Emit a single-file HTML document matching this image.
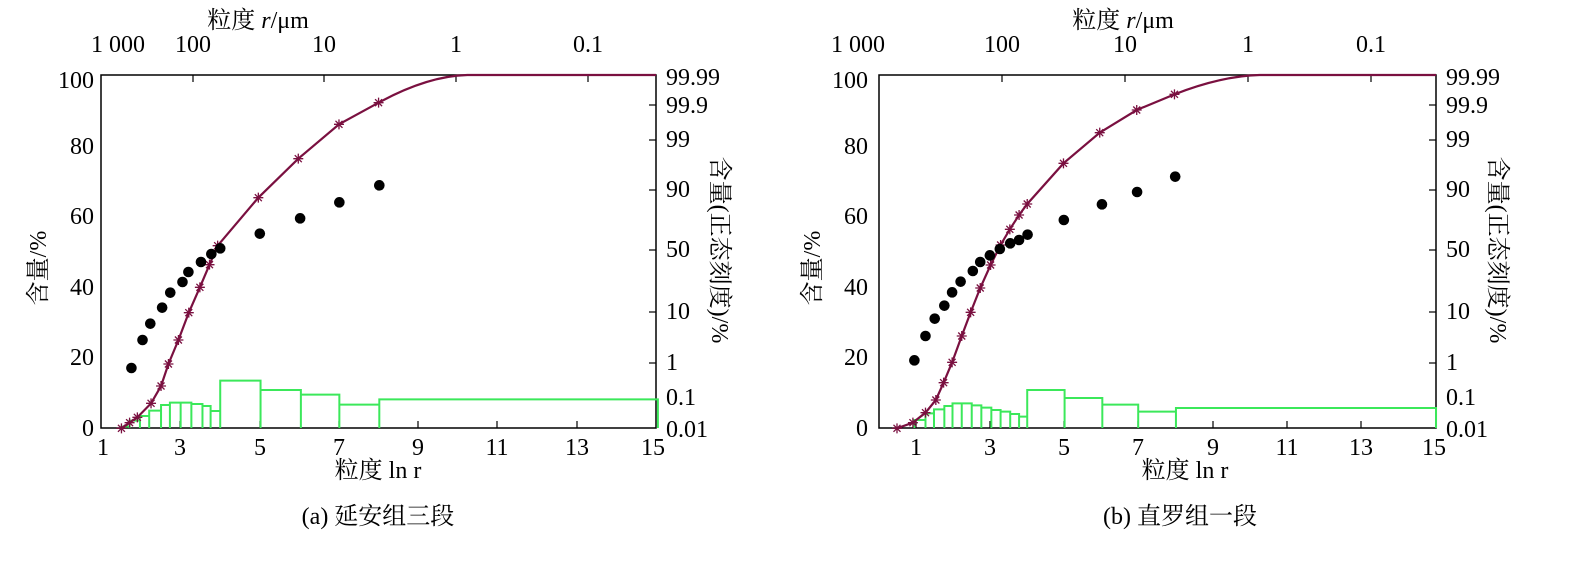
<!DOCTYPE html>
<html><head><meta charset="utf-8"><style>
html,body{margin:0;padding:0;background:#fff}
svg text{font-family:"Liberation Serif","Noto Serif CJK SC",serif;font-size:24px;fill:#000}
</style></head><body>
<svg id="s" width="1570" height="558" xmlns="http://www.w3.org/2000/svg">
<g id="A">
<rect x="101" y="75" width="555" height="353" fill="none" stroke="#000" stroke-width="1.5"/>
<g text-anchor="end">
<text x="94" y="436">0</text><text x="94" y="365">20</text><text x="94" y="295">40</text><text x="94" y="224">60</text><text x="94" y="154">80</text><text x="94" y="88">100</text>
</g>
<g text-anchor="start">
<text x="666" y="85">99.99</text><text x="666" y="113">99.9</text><text x="666" y="147">99</text><text x="666" y="197">90</text><text x="666" y="257">50</text><text x="666" y="319">10</text><text x="666" y="370">1</text><text x="666" y="405">0.1</text><text x="666" y="437">0.01</text>
</g>
<g text-anchor="middle">
<text x="103" y="455">1</text><text x="180" y="455">3</text><text x="260" y="455">5</text><text x="339" y="455">7</text><text x="418" y="455">9</text><text x="497" y="455">11</text><text x="577" y="455">13</text><text x="653" y="455">15</text>
<text x="118" y="52">1 000</text><text x="193" y="52">100</text><text x="324" y="52">10</text><text x="456" y="52">1</text><text x="588" y="52">0.1</text>
<text x="378" y="478">粒度 ln r</text>
<text x="258" y="28">粒度 <tspan font-style="italic">r</tspan>/μm</text>
<text x="378" y="524">(a)  延安组三段</text>
</g>
<text transform="translate(46,268) rotate(-90)" text-anchor="middle">含量/%</text>
<text transform="translate(712,250) rotate(90)" text-anchor="middle">含量(正态刻度)/%</text>
</g>
<g id="B">
<rect x="879" y="75" width="557" height="353" fill="none" stroke="#000" stroke-width="1.5"/>
<g text-anchor="end">
<text x="868" y="436">0</text><text x="868" y="365">20</text><text x="868" y="295">40</text><text x="868" y="224">60</text><text x="868" y="154">80</text><text x="868" y="88">100</text>
</g>
<g text-anchor="start">
<text x="1446" y="85">99.99</text><text x="1446" y="113">99.9</text><text x="1446" y="147">99</text><text x="1446" y="197">90</text><text x="1446" y="257">50</text><text x="1446" y="319">10</text><text x="1446" y="370">1</text><text x="1446" y="405">0.1</text><text x="1446" y="437">0.01</text>
</g>
<g text-anchor="middle">
<text x="916" y="455">1</text><text x="990" y="455">3</text><text x="1064" y="455">5</text><text x="1138" y="455">7</text><text x="1213" y="455">9</text><text x="1287" y="455">11</text><text x="1361" y="455">13</text><text x="1434" y="455">15</text>
<text x="858" y="52">1 000</text><text x="1002" y="52">100</text><text x="1125" y="52">10</text><text x="1248" y="52">1</text><text x="1371" y="52">0.1</text>
<text x="1185" y="478">粒度 ln r</text>
<text x="1123" y="28">粒度 <tspan font-style="italic">r</tspan>/μm</text>
<text x="1180" y="524">(b)  直罗组一段</text>
</g>
<text transform="translate(820,268) rotate(-90)" text-anchor="middle">含量/%</text>
<text transform="translate(1490,250) rotate(90)" text-anchor="middle">含量(正态刻度)/%</text>
</g>
<g id="D"></g>
</svg>
<script>
var NS="http://www.w3.org/2000/svg",D=document.getElementById("D");
function el(t,a){var e=document.createElementNS(NS,t);for(var k in a)e.setAttribute(k,a[k]);D.appendChild(e);return e;}
function chart(ox,dots,stars,end,hist,left,right,bx,ticksX,topX){
 var X=function(z){return ox+z/2.703},Y=function(z){return 60+z/3};
 ticksX.forEach(function(t){el("line",{x1:t,x2:t,y1:428,y2:421,stroke:"#000","stroke-width":1.2});});
 topX.forEach(function(t){el("line",{x1:t,x2:t,y1:75,y2:82,stroke:"#000","stroke-width":1.2});});
 [105,140,190,250,312,363].forEach(function(y){el("line",{x1:right-7,x2:right,y1:y,y2:y,stroke:"#000","stroke-width":1.2});});
 var p="M"+X(hist[0][0])+",428";
 hist.forEach(function(h){p+=" L"+X(h[0])+","+Y(h[2])+" L"+X(h[1])+","+Y(h[2])+" L"+X(h[1])+",428";});
 el("path",{d:p,fill:"none",stroke:"#3be85a","stroke-width":2});
 var pts=stars.map(function(s){return [X(s[0]),Y(s[1])]});
 var d="M"+pts[0][0]+","+pts[0][1];
 for(var i=1;i<pts.length;i++)d+=" L"+pts[i][0]+","+pts[i][1];
 var l=pts[pts.length-1];
 d+=" Q"+(l[0]+(X(end)-l[0])*0.55)+","+(75+1)+" "+X(end)+",75 L"+right+",75";
 el("path",{d:d,fill:"none",stroke:"#7a1040","stroke-width":2.2});
 pts.forEach(function(q){var r=5;
  el("path",{d:"M"+(q[0]-r)+","+q[1]+"h"+2*r+"M"+q[0]+","+(q[1]-r)+"v"+2*r+"M"+(q[0]-3.5)+","+(q[1]-3.5)+"l7,7M"+(q[0]-3.5)+","+(q[1]+3.5)+"l7,-7",stroke:"#7a1040","stroke-width":1.3});});
 dots.forEach(function(q){el("circle",{cx:X(q[0]),cy:Y(q[1]),r:5.3,fill:"#000"});});
}
chart(90,
[[112,924],[142,840],[163,791],[195,743],[217,698],[250,666],[266,636],[300,606],[328,582],[352,565],[459,521],[568,475],[674,427],[782,376]],
[[85,1105],[107,1088],[128,1072],[165,1030],[192,978],[212,912],[239,840],[267,758],[297,682],[323,614],[345,557],[455,413],[563,296],[673,193],[780,128]],
1020,
[[85,107,1100],[107,135,1082],[135,160,1068],[160,192,1052],[192,216,1035],[216,245,1028],[245,274,1028],[274,304,1032],[304,326,1038],[326,352,1053],[352,461,962],[461,570,990],[570,674,1004],[674,782,1034],[782,1535,1018]],
101,656,0,[180,260,339,418,497,577],[193,324,456,588]);
chart(860,
[[147,901],[177,828],[202,776],[228,737],[249,697],[272,665],[305,633],[325,606],[351,586],[378,567],[406,550],[430,540],[453,524],[551,480],[654,433],[749,396],[852,350]],
[[100,1105],[143,1088],[177,1058],[205,1020],[226,968],[249,907],[275,828],[299,757],[325,684],[353,615],[380,555],[405,508],[430,465],[452,432],[550,310],[648,218],[748,150],[850,103]],
1080,
[[147,177,1080],[177,200,1060],[200,228,1048],[228,250,1038],[250,275,1030],[275,302,1030],[302,328,1036],[328,355,1043],[355,380,1050],[380,406,1055],[406,430,1062],[430,452,1070],[452,553,990],[553,655,1014],[655,752,1034],[752,854,1055],[854,1557,1044]],
879,1436,0,[916,990,1064,1138,1213,1287,1361],[1002,1125,1248,1371]);
</script>
</body></html>
